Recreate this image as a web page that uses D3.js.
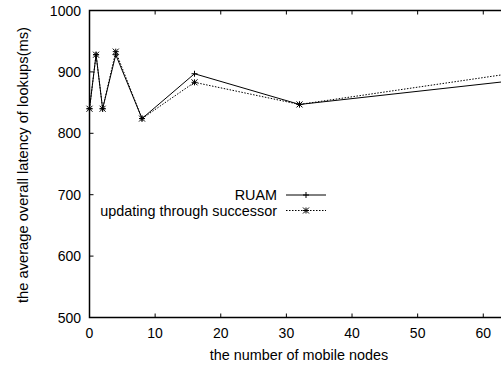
<!DOCTYPE html>
<html>
<head>
<meta charset="utf-8">
<script src="https://cdn.jsdelivr.net/npm/d3@7"></script>
<style>
  body { margin: 0; background: #fff; }
  svg { display: block; font-family: "Liberation Sans", Arial, sans-serif; }
</style>
</head>
<body>
<script>
const width = 501;
const height = 366;

// data
const nodes = [0, 1, 2, 4, 8, 16, 32, 64];
const ruam = [840, 928, 840, 928, 824, 897, 847, 885];
const successor = [840, 928, 840, 933, 824, 883, 847, 897];
const xTicks = [0, 10, 20, 30, 40, 50, 60];
const yTicks = [500, 600, 700, 800, 900, 1000];

const plotLeft = 89.5, plotTop = 10.5, plotBottom = 317.5;

const x = d3.scaleLinear().domain([0, 64]).range([plotLeft, plotLeft + 64 * 6.563]);
const y = d3.scaleLinear().domain([500, 1000]).range([plotBottom, plotTop]);

const svg = d3.select("body").append("svg")
	.attr("width", width)
	.attr("height", height);

// frame
svg.append("path")
	.attr("d", "M" + x(64) + "," + plotTop + "H" + plotLeft + "V" + plotBottom + "H" + x(64))
	.attr("fill", "none")
	.attr("stroke", "#000")
	.attr("stroke-width", 1.5);

// ticks (inward, mirrored on top)
const xt = svg.append("g").selectAll("g").data(xTicks).enter().append("g");
xt.append("line")
	.attr("x1", (d) => x(d)).attr("x2", (d) => x(d))
	.attr("y1", plotBottom).attr("y2", plotBottom - 4)
	.attr("stroke", "#000");
xt.append("line")
	.attr("x1", (d) => x(d)).attr("x2", (d) => x(d))
	.attr("y1", plotTop).attr("y2", plotTop + 4)
	.attr("stroke", "#000");
xt.append("text")
	.attr("x", (d) => x(d))
	.attr("y", 338)
	.attr("text-anchor", "middle")
	.attr("font-size", 14)
	.text((d) => d);

const yt = svg.append("g").selectAll("g").data(yTicks).enter().append("g");
yt.append("line")
	.attr("x1", plotLeft).attr("x2", plotLeft + 4)
	.attr("y1", (d) => y(d)).attr("y2", (d) => y(d))
	.attr("stroke", "#000");
yt.append("text")
	.attr("x", 81)
	.attr("y", (d) => y(d) + 5)
	.attr("text-anchor", "end")
	.attr("font-size", 14)
	.text((d) => d);

svg.append("text")
	.attr("x", 299)
	.attr("y", 360)
	.attr("text-anchor", "middle")
	.attr("font-size", 14.4)
	.text("the number of mobile nodes");

svg.append("text")
	.attr("transform", "translate(27.5,165) rotate(-90)")
	.attr("text-anchor", "middle")
	.attr("font-size", 14.4)
	.attr("textLength", 276)
	.attr("lengthAdjust", "spacingAndGlyphs")
	.text("the average overall latency of lookups(ms)");

// series
const line = d3.line().x((d, i) => x(nodes[i])).y((d) => y(d));

svg.append("path")
	.datum(ruam)
	.attr("d", line)
	.attr("fill", "none")
	.attr("stroke", "#000")
	.attr("stroke-width", 1);

svg.append("path")
	.datum(successor)
	.attr("d", line)
	.attr("fill", "none")
	.attr("stroke", "#000")
	.attr("stroke-width", 1)
	.attr("stroke-dasharray", "1.5,1.5");

function plus(g, px, py, s) {
	g.append("path")
		.attr("d", "M" + (px - s) + "," + py + "H" + (px + s) + "M" + px + "," + (py - s) + "V" + (py + s))
		.attr("stroke", "#000").attr("fill", "none");
}
function star(g, px, py, s) {
	plus(g, px, py, s);
	g.append("path")
		.attr("d", "M" + (px - s) + "," + (py - s) + "L" + (px + s) + "," + (py + s) + "M" + (px - s) + "," + (py + s) + "L" + (px + s) + "," + (py - s))
		.attr("stroke", "#000").attr("fill", "none");
}

const marks = svg.append("g");
ruam.forEach((d, i) => plus(marks, x(nodes[i]), y(d), 3));
successor.forEach((d, i) => star(marks, x(nodes[i]), y(d), 3));

// legend
const legend = [{name: "RUAM", dash: null, mark: plus},
	{name: "updating through successor", dash: "1.5,1.5", mark: star}];
const lg = svg.append("g").selectAll("g").data(legend).enter().append("g")
	.attr("transform", (d, i) => "translate(0," + (195 + i * 15.5) + ")");
lg.append("text")
	.attr("x", 277)
	.attr("y", 5)
	.attr("text-anchor", "end")
	.attr("font-size", 14.4)
	.text((d) => d.name);
lg.append("line")
	.attr("x1", 286).attr("x2", 326)
	.attr("stroke", "#000")
	.attr("stroke-dasharray", (d) => d.dash);
lg.each(function(d) { d.mark(d3.select(this), 306, 0, 3); });
</script>
</body>
</html>
